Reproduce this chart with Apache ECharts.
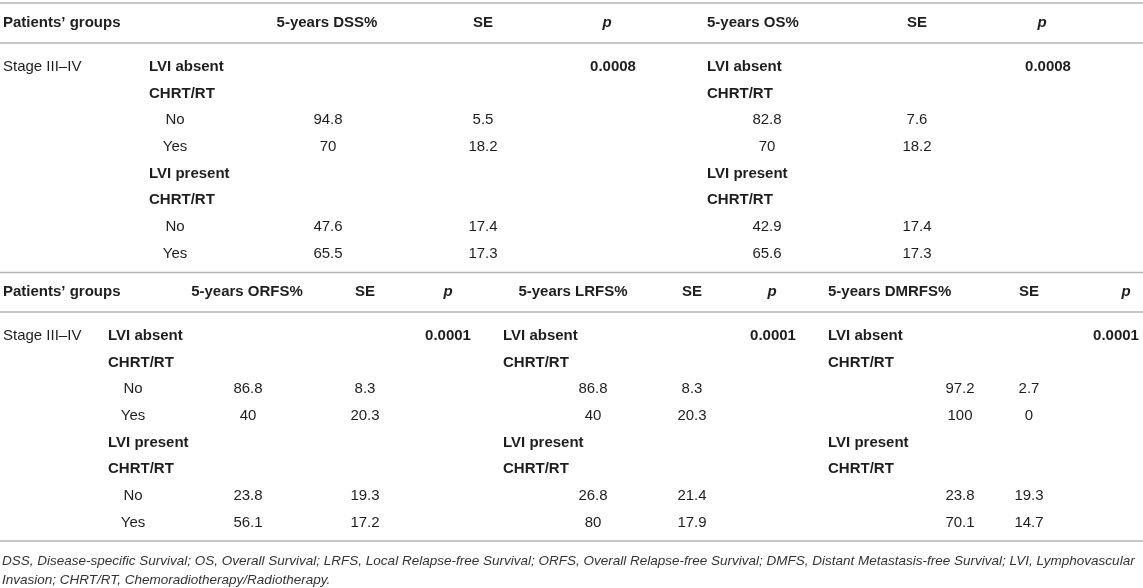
<!DOCTYPE html>
<html>
<head>
<meta charset="utf-8">
<style>
  html, body { margin: 0; padding: 0; background: #fff; }
  #table { width: 1143px; height: 588px; }
</style>
<script src="https://cdn.jsdelivr.net/npm/echarts@6/dist/echarts.min.js"></script>
</head>
<body>
<div id="table"></div>
<script>
// ---- data ----
var groupHeader = 'Patients’ groups';
var stageLabel = 'Stage III–IV';
var rowLabels = ['LVI absent', 'CHRT/RT', 'No', 'Yes', 'LVI present', 'CHRT/RT', 'No', 'Yes'];
var valueRows = [2, 3, 6, 7];

var dssHeader = '5-years DSS%';
var dssValues = [94.8, 70, 47.6, 65.5];
var dssSE = [5.5, 18.2, 17.4, 17.3];
var dssP = '0.0008';

var osHeader = '5-years OS%';
var osValues = [82.8, 70, 42.9, 65.6];
var osSE = [7.6, 18.2, 17.4, 17.3];
var osP = '0.0008';

var orfsHeader = '5-years ORFS%';
var orfsValues = [86.8, 40, 23.8, 56.1];
var orfsSE = [8.3, 20.3, 19.3, 17.2];
var orfsP = '0.0001';

var lrfsHeader = '5-years LRFS%';
var lrfsValues = [86.8, 40, 26.8, 80];
var lrfsSE = [8.3, 20.3, 21.4, 17.9];
var lrfsP = '0.0001';

var dmrfsHeader = '5-years DMRFS%';
var dmrfsValues = [97.2, 100, 23.8, 70.1];
var dmrfsSE = [2.7, 0, 19.3, 14.7];
var dmrfsP = '0.0001';

var footnoteLines = [
    'DSS, Disease-specific Survival; OS, Overall Survival; LRFS, Local Relapse-free Survival; ORFS, Overall Relapse-free Survival; DMFS, Distant Metastasis-free Survival; LVI, Lymphovascular',
    'Invasion; CHRT/RT, Chemoradiotherapy/Radiotherapy.'
];

// ---- layout ----
var W = 1143, H = 588;
var FONT = '"Liberation Sans", Arial, Helvetica, sans-serif';
var TXT = '#1e1e1e';
var RULE = '#b4b4b4';
var rowH = 26.67;

var tables = [
    {
        headY: 23, firstRow: 67, rules: [3, 43],
        blocks: [
            {header: dssHeader, values: dssValues, se: dssSE, p: dssP,
             labelX: 149, optX: 175, headX: 327, headAlign: 'center', valX: 328, seX: 483, pHeadX: 607, pX: 613},
            {header: osHeader, values: osValues, se: osSE, p: osP,
             labelX: 707, optX: null, headX: 707, headAlign: 'left', valX: 767, seX: 917, pHeadX: 1042, pX: 1048}
        ]
    },
    {
        headY: 292, firstRow: 336, rules: [272.5, 312, 541],
        blocks: [
            {header: orfsHeader, values: orfsValues, se: orfsSE, p: orfsP,
             labelX: 108, optX: 133, headX: 247, headAlign: 'center', valX: 248, seX: 365, pHeadX: 448, pX: 448},
            {header: lrfsHeader, values: lrfsValues, se: lrfsSE, p: lrfsP,
             labelX: 503, optX: null, headX: 573, headAlign: 'center', valX: 593, seX: 692, pHeadX: 772, pX: 773},
            {header: dmrfsHeader, values: dmrfsValues, se: dmrfsSE, p: dmrfsP,
             labelX: 828, optX: null, headX: 828, headAlign: 'left', valX: 960, seX: 1029, pHeadX: 1126, pX: 1116}
        ]
    }
];

// build cells
var cells = [];
var rules = [];
function cell(x, y, text, align, weight, style) {
    cells.push({x: x, y: y, text: String(text), align: align || 'left', weight: weight || 'normal', style: style || 'normal'});
}

tables.forEach(function (t) {
    rules = rules.concat(t.rules);
    cell(3, t.headY, groupHeader, 'left', 'bold');
    cell(3, t.firstRow, stageLabel, 'left');
    t.blocks.forEach(function (b) {
        cell(b.headX, t.headY, b.header, b.headAlign, 'bold');
        cell(b.seX, t.headY, 'SE', 'center', 'bold');
        cell(b.pHeadX, t.headY, 'p', 'center', 'bold', 'italic');
        cell(b.pX, t.firstRow, b.p, 'center', 'bold');
        var v = 0;
        rowLabels.forEach(function (lab, i) {
            var y = t.firstRow + i * rowH;
            if (valueRows.indexOf(i) >= 0) {
                if (b.optX !== null) cell(b.optX, y, lab, 'center');
                cell(b.valX, y, b.values[v], 'center');
                cell(b.seX, y, b.se[v], 'center');
                v++;
            } else {
                cell(b.labelX, y, lab, 'left', 'bold');
            }
        });
    });
});
footnoteLines.forEach(function (line, i) {
    cells.push({x: 2, y: 561 + i * 19, text: line, align: 'left', weight: 'normal', style: 'italic', size: 13.5, color: '#333'});
});

var chart = echarts.init(document.getElementById('table'));
chart.setOption({
    animation: false,
    grid: {left: 0, right: 0, top: 0, bottom: 0},
    xAxis: {type: 'value', min: 0, max: W, show: false},
    yAxis: {type: 'value', min: 0, max: H, inverse: true, show: false},
    series: [
        {
            type: 'custom',
            clip: false,
            data: rules.map(function (y) { return [0, y]; }),
            renderItem: function (params, api) {
                var a = api.coord([0, api.value(1)]);
                var b = api.coord([W, api.value(1)]);
                return {
                    type: 'line',
                    shape: {x1: a[0], y1: a[1], x2: b[0], y2: b[1]},
                    style: {stroke: RULE, lineWidth: 1.5}
                };
            }
        },
        {
            type: 'custom',
            clip: false,
            data: cells.map(function (c) { return [c.x, c.y]; }),
            renderItem: function (params, api) {
                var c = cells[params.dataIndex];
                var pt = api.coord([api.value(0), api.value(1)]);
                return {
                    type: 'text',
                    x: pt[0],
                    y: pt[1],
                    style: {
                        text: c.text,
                        fill: c.color || TXT,
                        font: c.style + ' ' + c.weight + ' ' + (c.size || 15) + 'px ' + FONT,
                        align: c.align,
                        verticalAlign: 'middle'
                    }
                };
            }
        }
    ]
});
</script>
</body>
</html>
